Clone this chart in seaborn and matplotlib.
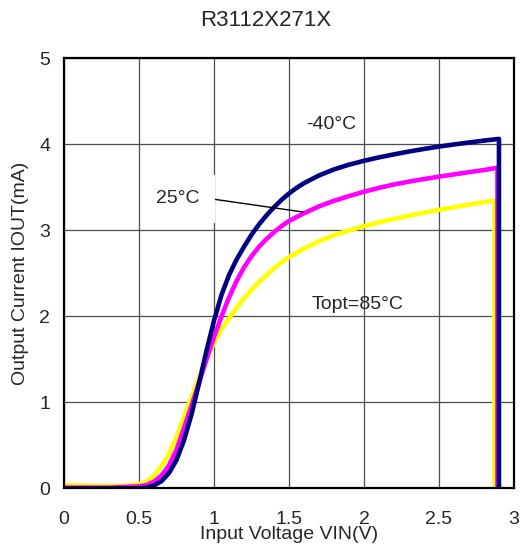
import numpy as np
import pandas as pd
import seaborn as sns
from matplotlib import pyplot as plt

# (Vin in V, Iout in mA)
vin_m40 = [0, 0.3, 0.5, 0.55, 0.6, 0.65, 0.7, 0.75, 0.8, 0.85, 0.9, 0.95, 1.0, 1.05, 1.1,
           1.15, 1.2, 1.25, 1.3, 1.35, 1.4, 1.45, 1.5, 1.55, 1.6, 1.7, 1.8, 1.9, 2.0, 2.1,
           2.2, 2.3, 2.4, 2.5, 2.6, 2.7, 2.8, 2.9, 2.9]
iout_m40 = [0, 0, 0.003, 0.01, 0.035, 0.085, 0.18, 0.33, 0.56, 0.86, 1.22, 1.6, 1.95, 2.25, 2.48,
            2.66, 2.81, 2.95, 3.07, 3.175, 3.27, 3.355, 3.43, 3.495, 3.55, 3.64, 3.71, 3.765, 3.81, 3.85,
            3.885, 3.918, 3.948, 3.976, 4.0, 4.023, 4.045, 4.065, 0]

vin_25 = [0, 0.3, 0.5, 0.55, 0.6, 0.65, 0.7, 0.75, 0.8, 0.85, 0.9, 0.95, 1.0, 1.05, 1.1,
          1.15, 1.2, 1.25, 1.3, 1.35, 1.4, 1.45, 1.5, 1.6, 1.7, 1.8, 1.9, 2.0, 2.1,
          2.2, 2.3, 2.4, 2.5, 2.6, 2.7, 2.8, 2.89, 2.89]
iout_25 = [0.01, 0.01, 0.025, 0.04, 0.08, 0.15, 0.27, 0.45, 0.7, 0.96, 1.23, 1.5, 1.76, 2.0, 2.22,
           2.41, 2.57, 2.7, 2.81, 2.9, 2.98, 3.05, 3.11, 3.2, 3.28, 3.345, 3.4, 3.45, 3.495,
           3.535, 3.568, 3.598, 3.626, 3.652, 3.678, 3.703, 3.73, 0]

vin_85 = [0, 0.2, 0.4, 0.5, 0.55, 0.6, 0.65, 0.7, 0.75, 0.8, 0.85, 0.9, 0.95, 1.0, 1.05, 1.1,
          1.15, 1.2, 1.25, 1.3, 1.35, 1.4, 1.45, 1.5, 1.6, 1.7, 1.8, 1.9, 2.0, 2.1,
          2.2, 2.3, 2.4, 2.5, 2.6, 2.7, 2.8, 2.87, 2.87]
iout_85 = [0.04, 0.03, 0.03, 0.05, 0.08, 0.15, 0.26, 0.4, 0.6, 0.83, 1.06, 1.29, 1.5, 1.69, 1.85, 1.98,
           2.1, 2.21, 2.31, 2.4, 2.48, 2.56, 2.63, 2.69, 2.79, 2.875, 2.945, 3.0, 3.05, 3.095,
           3.135, 3.172, 3.207, 3.24, 3.27, 3.3, 3.33, 3.35, 0]

temps = ['-40', '25', '85']
colors = ['#000080', '#FF00FF', '#FFFF00']

frames = []
for t, x, y in zip(temps, [vin_m40, vin_25, vin_85], [iout_m40, iout_25, iout_85]):
    frames.append(pd.DataFrame({'vin': x, 'iout': y, 'temp': t}))
df = pd.concat(frames, ignore_index=True)

sns.set_style('white')
plt.rcParams['font.family'] = ['Liberation Sans', 'DejaVu Sans']

fig = plt.figure(figsize=(5.21, 5.48), dpi=100)
ax = fig.add_axes([0.1228, 0.1086, 0.8637, 0.7847])

# yellow first so navy ends up on top, as in the reference
for t, c in zip(temps[::-1], colors[::-1]):
    sns.lineplot(data=df[df.temp == t], x='vin', y='iout', sort=False, color=c,
                 linewidth=3.3, ax=ax, estimator=None, legend=False,
                 solid_joinstyle='round')

ax.set_xlim(0, 3)
ax.set_ylim(0, 5)
ax.set_xticks([0, 0.5, 1, 1.5, 2, 2.5, 3])
ax.set_xticklabels(['0', '0.5', '1', '1.5', '2', '2.5', '3'])
ax.set_yticks([0, 1, 2, 3, 4, 5])
ax.grid(True, color='0.3', linewidth=0.9)
ax.tick_params(axis='x', length=0, pad=16, labelsize=14)
ax.tick_params(axis='y', length=0, pad=10, labelsize=14)
for s in ax.spines.values():
    s.set_color('black')
    s.set_linewidth(1.6)

ax.set_xlabel('Input Voltage VIN(V)', fontsize=14, labelpad=-1)
ax.set_ylabel('Output Current IOUT(mA)', fontsize=14, labelpad=7)
fig.text(0.511, 0.9626, 'R3112X271X', ha='center', va='center', fontsize=16)

ax.text(1.78, 4.23, '-40°C', ha='center', va='center', fontsize=14)
ax.text(0.76, 3.37, '25°C', ha='center', va='center', fontsize=14,
        bbox=dict(facecolor='white', edgecolor='none', boxstyle='square,pad=0.8'))
ax.plot([0.893, 1.593], [3.39, 3.215], color='black', linewidth=1)
ax.text(1.96, 2.14, 'Topt=85°C', ha='center', va='center', fontsize=14)

fig.savefig('out.png', dpi=100)
